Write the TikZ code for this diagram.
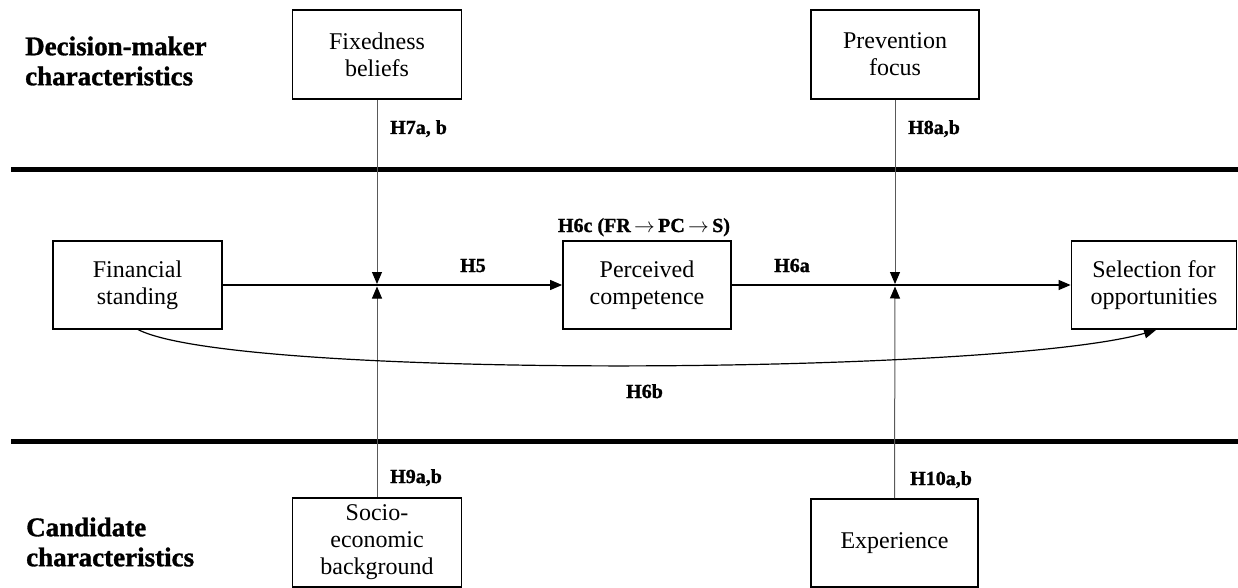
\documentclass[tikz,border=0pt]{standalone}
\usepackage{fontspec}
\setmainfont{Liberation Serif}
\newfontfamily\heavy{Liberation Serif}[FakeBold=1.2]
\usetikzlibrary{arrows.meta}
\begin{document}
\begin{tikzpicture}[x=1pt,y=-1pt,
  box/.style={draw=black,line width=1.8pt,rectangle,inner sep=0pt,align=center,
    font=\fontsize{24}{27}\selectfont},
  header/.style={anchor=west,inner sep=0pt,align=left,font=\fontsize{27}{30}\selectfont\heavy\bfseries},
  hlab/.style={inner sep=0pt,font=\fontsize{20}{23}\selectfont\heavy\bfseries},
  conn/.style={line width=1.2pt,-{Triangle[length=12pt,width=10pt]}},
  vconn/.style={line width=1pt,black!65,-{Triangle[length=12pt,width=10pt,fill=black,color=black]}},
  sep/.style={line width=5pt,black}]
\useasboundingbox (0,0) rectangle (1238,588);

% separators
\draw[sep] (11,169.5) -- (1238,169.5);
\draw[sep] (11,441) -- (1238,441);

% headers
\node[header] (hdm) at (25,61) {Decision-maker\\characteristics};
\node[header] (hcc) at (26,542) {Candidate\\characteristics};

% boxes
\node[box,minimum width=169pt,minimum height=89pt] (fix) at (377,54.5) {Fixedness\\beliefs};
\node[box,minimum width=168pt,minimum height=89pt] (prev) at (895,54.5) {Prevention\\focus};
\node[box,minimum width=169pt,minimum height=88pt] (fin) at (137.5,285) {Financial\\standing};
\node[box,minimum width=168pt,minimum height=88pt] (pc) at (647,285) {Perceived\\competence};
\node[box,minimum width=165pt,minimum height=88pt] (sel) at (1154,285) {Selection for\\opportunities};
\node[box,minimum width=169pt,minimum height=89pt] (soc) at (377,542.5) {Socio-\\economic\\background};
\node[box,minimum width=167pt,minimum height=88pt] (exp) at (894.5,543) {Experience};

% junction points
\coordinate (m1t) at (377,284);
\coordinate (m1b) at (377,286.5);
\coordinate (m2t) at (895,284);
\coordinate (m2b) at (895,286.5);

% main path
\draw[conn] (fin.east) -- (pc.west);
\draw[conn] (pc.east) -- (sel.west);

% moderators
\draw[vconn] (fix.south) -- (m1t);
\draw[vconn] (soc.north) -- (m1b);
\draw[vconn] (prev.south) -- (m2t);
\draw[vconn] (exp.north) -- (m2b);

% direct effect curve
\coordinate (finb) at (137,329);
\coordinate (selb) at (1156,330);
\draw[conn] (finb) .. controls (230,380) and (1000,375) .. (selb);

% labels
\node[hlab,anchor=base west] (l7) at (390,134) {H7a, b};
\node[hlab,anchor=base west] (l8) at (908,134) {H8a,b};
\node[hlab,anchor=base west] (l5) at (460,272) {H5};
\node[hlab,anchor=base west] (l6a) at (774,272) {H6a};
\node[hlab,anchor=base west] (l6b) at (626,398) {H6b};
\node[hlab,anchor=base] (l6c) at (644,232) {H6c (FR\,$\rightarrow$\,PC\,$\rightarrow$\,S)};
\node[hlab,anchor=base west] (l9) at (390,483) {H9a,b};
\node[hlab,anchor=base west] (l10) at (910,485) {H10a,b};
\end{tikzpicture}
\end{document}
